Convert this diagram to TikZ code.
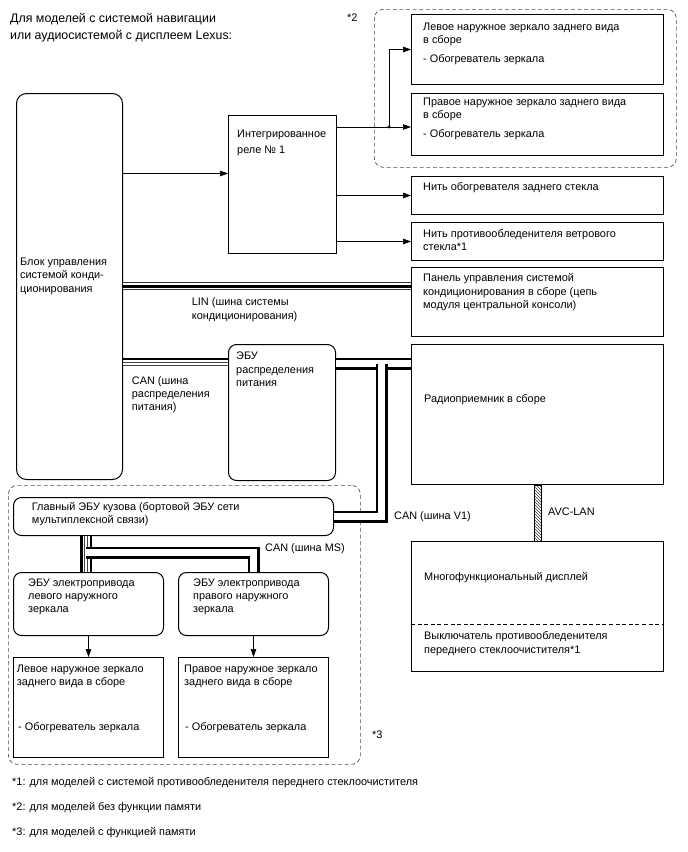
\documentclass[tikz,border=0pt]{standalone}
\usepackage{fontspec}
\setmainfont{Liberation Sans}
\usetikzlibrary{arrows.meta, calc, patterns}
\newcommand\lbl{\fontsize{10.9}{13.4}\selectfont}
\newcommand\ttl{\fontsize{12.4}{16.7}\selectfont}

\tikzset{
  box/.style={draw, line width=1pt, fill=white, anchor=north west, inner sep=0pt},
  ecu/.style={box, rounded corners=8pt},
  txt/.style={anchor=north west, inner sep=0pt, align=left, font=\lbl},
  grp/.style={draw=black!70, dash pattern=on 4pt off 2.6pt, line width=0.7pt,
    rounded corners=9pt, anchor=north west, inner sep=0pt},
  arr/.style={-{Triangle[length=8pt,width=5.5pt]}, line width=0.7pt},
  % LIN: thin - thick - thin
  linbus/.style={draw=black, line width=3pt,
    preaction={draw=black!80, line width=7.8pt},
    preaction={draw=white, line width=6.6pt}},
  % CAN: thick - thin - thin - thick
  canbus/.style={draw=white, line width=2.4pt,
    preaction={draw=black, line width=12pt},
    preaction={draw=white, line width=7pt},
    preaction={draw=black!75, line width=3.6pt}},
  canwire/.style={draw=black, line width=2.5pt},
  canpair/.style={draw=white, line width=2.4pt,
    preaction={draw=black!75, line width=3.6pt}},
  avcbus/.style={draw, line width=0.6pt, pattern=north west lines, pattern color=black!80}
}

\begin{document}
\begin{tikzpicture}[x=1pt, y=-1pt]
\fill[white] (0,0) rectangle (688,852);

\node[txt, font=\ttl] (title) at (10,13.5) {Для моделей с системой навигации\\или аудиосистемой с дисплеем Lexus:};

% groups
\node[grp, minimum width=302pt, minimum height=158pt] (g2) at (374,9) {};
\node[txt] (n2) at (347,14) {*2};
\node[grp, minimum width=352pt, minimum height=279pt] (g3) at (8,485) {};
\node[txt] (n3) at (372,731) {*3};

% boxes
\node[box, minimum width=252pt, minimum height=70pt] (lm) at (411,14) {};
\node[box, minimum width=252pt, minimum height=62pt] (rm) at (411,93) {};
\node[box, minimum width=108pt, minimum height=138pt] (rel) at (228,115) {};
\node[box, minimum width=252pt, minimum height=38pt] (rh) at (411,176) {};
\node[box, minimum width=252pt, minimum height=38pt] (ws) at (411,222) {};
\node[box, minimum width=252pt, minimum height=69pt] (pnl) at (411,267) {};
\node[ecu, rounded corners=10pt, minimum width=106pt, minimum height=386pt] (acu) at (16,93) {};
\node[ecu, minimum width=107pt, minimum height=136pt] (pwr) at (228,344) {};
\node[box, minimum width=252pt, minimum height=140pt] (rad) at (411,344) {};
\node[box, minimum width=252pt, minimum height=130pt] (dsp) at (411,541) {};
\node[ecu, minimum width=320pt, minimum height=38pt] (bcm) at (13,497) {};
\node[ecu, minimum width=150pt, minimum height=63pt] (lecu) at (13,572) {};
\node[ecu, minimum width=150pt, minimum height=63pt] (recu) at (178,572) {};
\node[box, minimum width=150pt, minimum height=100pt] (lmir) at (13,657) {};
\node[box, minimum width=150pt, minimum height=100pt] (rmir) at (178,657) {};
\draw[dash pattern=on 4pt off 2.6pt, line width=0.6pt] ($(dsp.north west)+(0,83)$) -- ($(dsp.north east)+(0,83)$);

% texts
\node[txt] (lmt) at (423,22.8) {Левое наружное зеркало заднего вида\\в сборе\\[5pt]- Обогреватель зеркала};
\node[txt] (rmt) at (423,97.8) {Правое наружное зеркало заднего вида\\в сборе\\[5pt]- Обогреватель зеркала};
\node[txt] (relt) at (237,130) {Интегрированное\\[2.5pt]реле № 1};
\node[txt] (rht) at (423,182.7) {Нить обогревателя заднего стекла};
\node[txt] (wst) at (423,229) {Нить противообледенителя ветрового\\стекла*1};
\node[txt] (pnlt) at (423,273.7) {Панель управления системой\\кондиционирования в сборе (цепь\\модуля центральной консоли)};
\node[txt] (acut) at (20,257.7) {Блок управления\\системой конди-\\ционирования};
\node[txt] (lint) at (191.7,297.7) {LIN (шина системы\\[0.6pt]кондиционирования)};
\node[txt] (pwrt) at (236,352) {ЭБУ\\распределения\\питания};
\node[txt] (cant) at (131.7,376) {CAN (шина\\распределения\\питания)};
\node[txt] (radt) at (424,394.3) {Радиоприемник в сборе};
\node[txt] (avct) at (548,508) {AVC-LAN};
\node[txt] (v1t) at (394,511) {CAN (шина V1)};
\node[txt] (dspt) at (424,572.7) {Многофункциональный дисплей};
\node[txt] (swt) at (424,631) {Выключатель противообледенителя\\[0.6pt]переднего стеклоочистителя*1};
\node[txt] (bcmt) at (31.7,502) {Главный ЭБУ кузова (бортовой ЭБУ сети\\мультиплексной связи)};
\node[txt] (mst) at (265,543.3) {CAN (шина MS)};
\node[txt] (lecut) at (28,578.3) {ЭБУ электропривода\\левого наружного\\зеркала};
\node[txt] (recut) at (193,578.3) {ЭБУ электропривода\\правого наружного\\зеркала};
\node[txt] (lmirt) at (16.7,664.3) {Левое наружное зеркало\\заднего вида в сборе};
\node[txt] (lmirh) at (18,722.7) {- Обогреватель зеркала};
\node[txt] (rmirt) at (184,664.3) {Правое наружное зеркало\\заднего вида в сборе};
\node[txt] (rmirh) at (185,722.7) {- Обогреватель зеркала};
\node[txt] (fn1) at (12,777.7) {*1: для моделей с системой противообледенителя переднего стеклоочистителя};
\node[txt] (fn2) at (12,802.7) {*2: для моделей без функции памяти};
\node[txt] (fn3) at (12,827) {*3: для моделей с функцией памяти};

% signal lines
\coordinate (in) at ($(rel.west)+(0,-11)$);
\coordinate (out) at ($(rel.north east)+(0,12)$);
\coordinate (jn) at ($(rm.west |- out)+(-22,0)$);
\draw[arr] (acu.east |- in) -- (in);
\draw[arr] (out) -- (rm.west |- out);
\draw[arr] (jn) |- (lm.west);
\fill (jn) circle (1.6pt);
\draw[arr] (rel.east |- rh.west) -- (rh.west);
\draw[arr] (rel.east |- ws.west) -- (ws.west);
\draw[arr] (lecu.south) -- (lmir.north);
\draw[arr] (recu.south) -- (rmir.north);

% buses
\coordinate (lin) at ($(pnl.north west)+(0,19)$);
\draw[linbus] (acu.east |- lin) -- (lin);
\coordinate (cA) at ($(pwr.north west)+(0,15)$);
\draw[canwire] (acu.east |- cA) -- (cA);
\draw[canpair] ($(acu.east |- cA)+(0,5)$) -- ($(cA)+(0,5)$);
\coordinate (cB) at ($(pwr.north east)+(0,19.5)$);
\draw[canbus] (cB) -- (rad.west |- cB);
\coordinate (cC) at ($(cB)+(45.5,0)$);
\draw[canbus] (cC) |- (bcm.east);
\coordinate (cM) at ($(bcm.south west)+(73,0)$);
\draw[canbus] (cM) -- (cM |- lecu.north);
\draw[canbus] ($(cM)+(0,16.5)$) -| (recu.north);
\path[avcbus] ($(rad.south)+(-3.5,0)$) rectangle ($(dsp.north)+(3.5,0)$);
\end{tikzpicture}
\end{document}
